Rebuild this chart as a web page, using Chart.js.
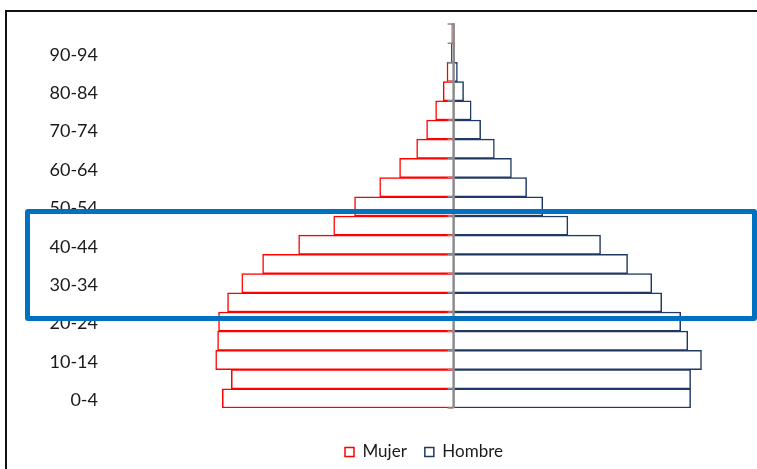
<!DOCTYPE html>
<html lang="es">
<head>
<meta charset="utf-8">
<title>Pirámide de población</title>
<script src="https://cdn.jsdelivr.net/npm/chart.js@4.4.1/dist/chart.umd.min.js"></script>
<style>
  html, body { margin: 0; padding: 0; background: #fff; overflow: hidden; width: 757px; height: 469px; }
  #wrap { position: relative; width: 757px; height: 469px; overflow: hidden; }
  #marco { position: absolute; left: 5px; top: 10px; width: 800px; height: 500px;
           border-top: 2px solid #111; border-left: 2px solid #111; }
  canvas { position: absolute; left: 0; top: 0; }
  #recuadro { position: absolute; left: 25px; top: 209px; width: 732px; height: 112px;
              border: 5px solid #0070C0; border-radius: 3px; box-sizing: border-box; }
</style>
</head>
<body>
<div id="wrap">
  <div id="marco"></div>
  <canvas id="piramide" width="757" height="480"></canvas>
  <div id="recuadro"></div>
</div>
<script>
// Grupos quinquenales de edad (de menor a mayor)
const grupos = ['0-4', '5-9', '10-14', '15-19', '20-24', '25-29', '30-34', '35-39', '40-44', '45-49',
                '50-54', '55-59', '60-64', '65-69', '70-74', '75-79', '80-84', '85-89', '90-94', '95-99'];

// Porcentaje de la población total en cada grupo
const mujer  = [4.88, 4.69, 5.02, 4.98, 4.96, 4.77, 4.47, 4.03, 3.27, 2.53,
                2.09, 1.56, 1.14, 0.78, 0.57, 0.38, 0.22, 0.14, 0.05, 0.04];
const hombre = [5.00, 5.00, 5.23, 4.94, 4.79, 4.39, 4.18, 3.67, 3.10, 2.41,
                1.88, 1.54, 1.22, 0.86, 0.57, 0.37, 0.21, 0.08, 0.02, 0.01];

const ROJO = '#FF0000';
const AZUL = '#203864';
const FUENTE = 'Lato, Calibri, Carlito, "Open Sans", sans-serif';

// Eje vertical central (valor 0) con marcas en los límites de cada grupo
const ejeCentral = {
  id: 'ejeCentral',
  afterDatasetsDraw(chart) {
    const { ctx, chartArea, scales: { x, y } } = chart;
    const x0 = x.getPixelForValue(0);
    ctx.save();
    ctx.strokeStyle = '#8c8c8c';
    ctx.lineWidth = 2.5;
    ctx.beginPath();
    ctx.moveTo(x0, chartArea.top - 1);
    ctx.lineTo(x0, chartArea.bottom);
    ctx.stroke();
    ctx.lineWidth = 1.5;
    ctx.beginPath();
    for (let i = 0; i <= grupos.length; i++) {
      const yb = y.getPixelForValue(i - 0.5);
      ctx.moveTo(x0 - 6, yb);
      ctx.lineTo(x0, yb);
    }
    ctx.stroke();
    ctx.restore();
  }
};

function dibujar() {
  new Chart(document.getElementById('piramide'), {
    type: 'bar',
    data: {
      labels: grupos,
      datasets: [
        {
          label: 'Mujer',
          data: mujer.map(v => -v),
          backgroundColor: '#ffffff',
          borderColor: ROJO,
          borderWidth: 1.5,
          barPercentage: 1,
          categoryPercentage: 1
        },
        {
          label: 'Hombre',
          data: hombre,
          backgroundColor: '#ffffff',
          borderColor: AZUL,
          borderWidth: 1.5,
          barPercentage: 1,
          categoryPercentage: 1
        }
      ]
    },
    options: {
      indexAxis: 'y',
      responsive: false,
      animation: false,
      layout: { padding: { top: 24, left: 0, right: 19, bottom: 9.5 } },
      scales: {
        x: {
          type: 'linear',
          stacked: true,
          min: -7.25,
          max: 6,
          grid: { display: false, drawTicks: false },
          border: { display: false },
          ticks: { display: false },
          afterFit(s) { s.height = 17.5; }
        },
        y: {
          type: 'category',
          stacked: true,
          reverse: true,
          grid: { display: false, drawTicks: false },
          border: { display: false },
          ticks: {
            autoSkip: false,
            padding: 12,
            labelOffset: 2,
            color: '#1a1a1a',
            font: { family: FUENTE, size: 18 },
            callback(value) { return value % 2 === 0 ? this.getLabelForValue(value) : ''; }
          },
          afterFit(s) { s.width = 110; }
        }
      },
      plugins: {
        legend: {
          position: 'bottom',
          fullSize: false,
          labels: {
            boxWidth: 9,
            boxHeight: 9,
            padding: 18,
            color: '#1a1a1a',
            font: { family: FUENTE, size: 17 }
          }
        },
        tooltip: { enabled: false }
      }
    },
    plugins: [ejeCentral]
  });
}

if (document.fonts && document.fonts.load) {
  Promise.all([document.fonts.load('18px Lato'), document.fonts.load('17px Lato')])
    .then(dibujar, dibujar);
} else {
  dibujar();
}
</script>
</body>
</html>
